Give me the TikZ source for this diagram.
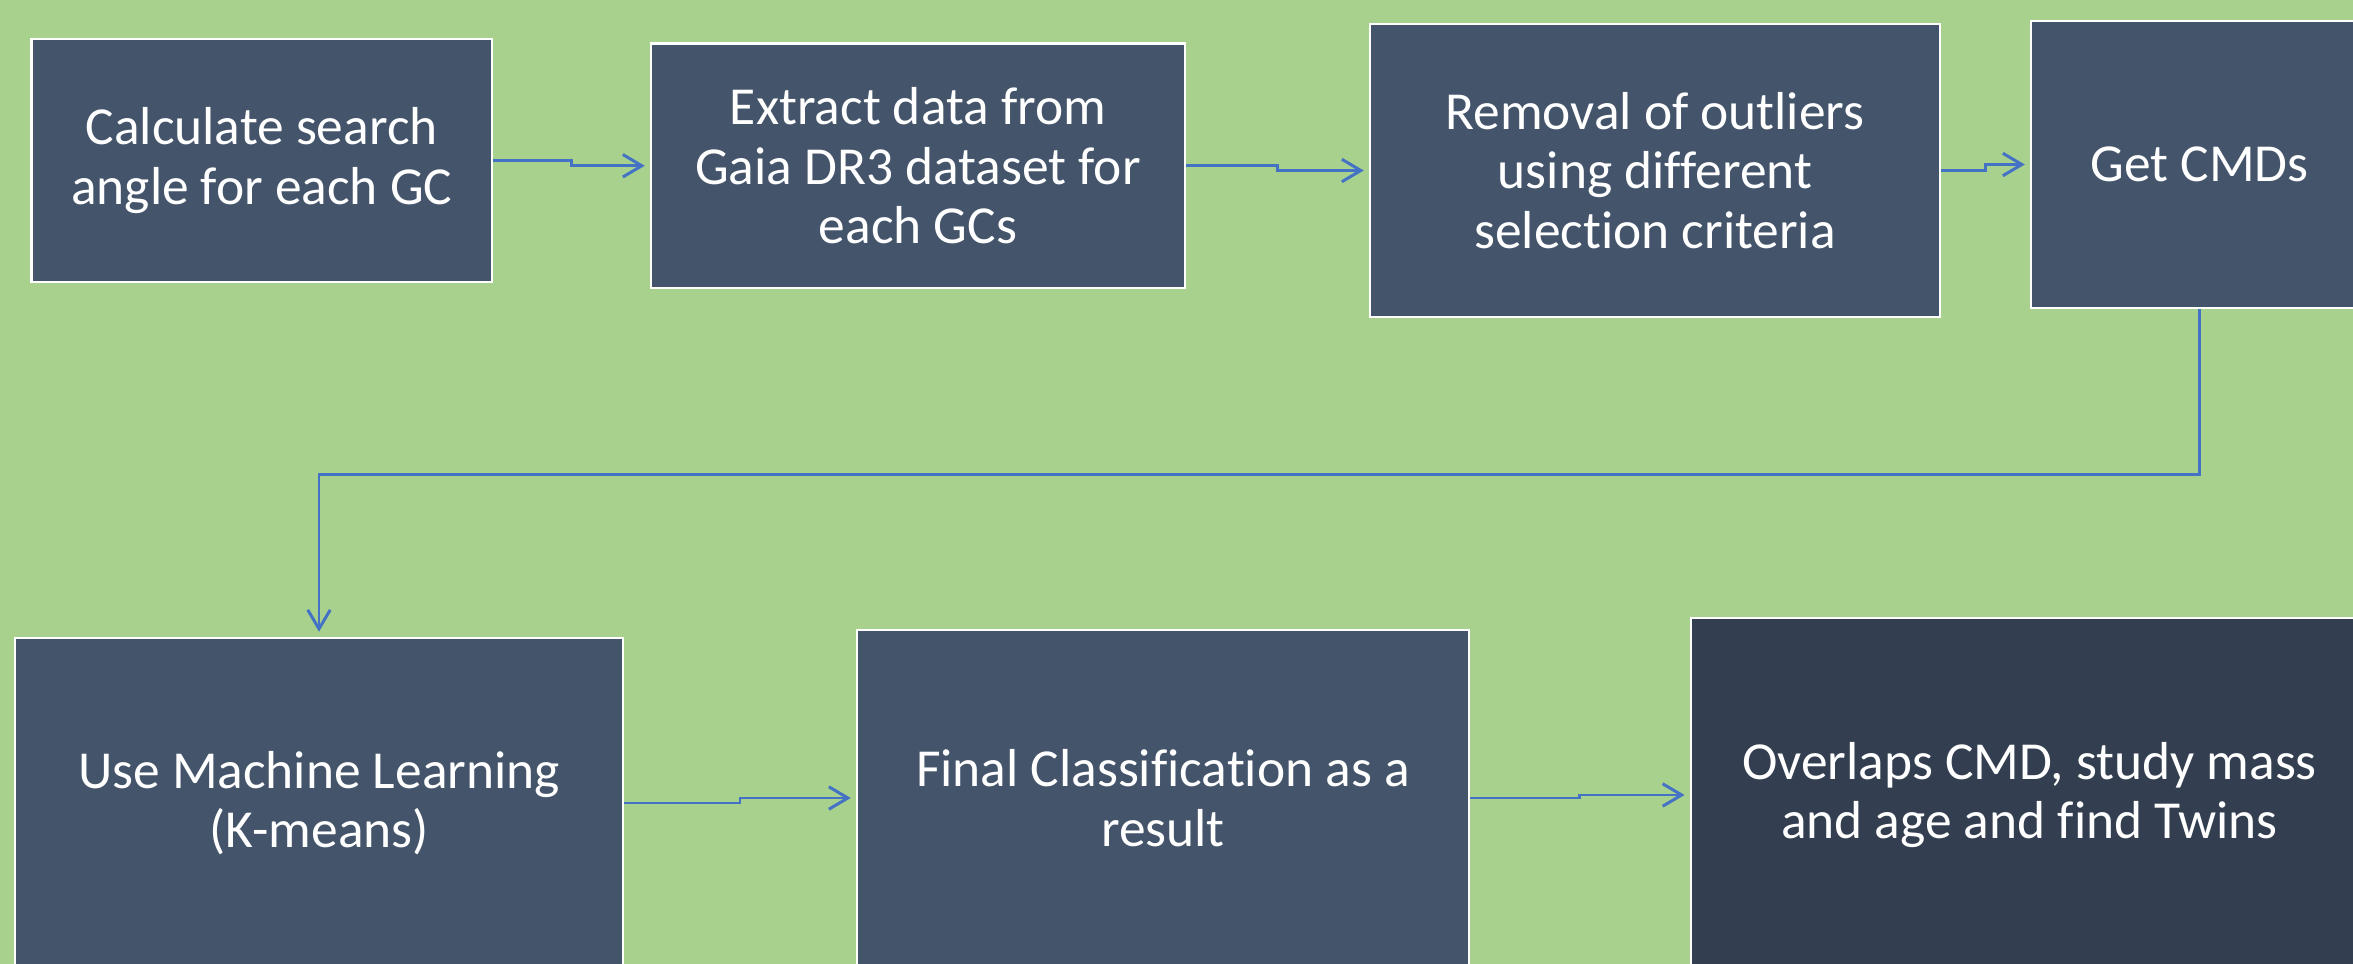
\documentclass[tikz,border=0pt]{standalone}
\usepackage{fontspec}
\setmainfont[Ligatures=NoCommon]{Carlito}
\usetikzlibrary{calc,arrows.meta}
\definecolor{bggreen}{HTML}{A9D18E}
\definecolor{boxblue}{HTML}{44546A}
\definecolor{boxdark}{HTML}{333F50}
\definecolor{linkblue}{HTML}{4472C4}
\tikzset{
  stepbox/.style={draw=white, line width=0.7pt, fill=boxblue, text=white,
    align=center, inner sep=0pt,
    font=\fontsize{15.2pt}{16.9pt}\selectfont},
  link/.style={draw=linkblue, line width=0.85pt,
    -{Straight Barb[length=5.4pt,width=6.4pt,line width=0.85pt]},
    shorten >=0.05cm},
}
\newcommand{\boxat}[6]{% name, cx, cy, w, h, text
  \node[stepbox, minimum width=#4*0.01cm, minimum height=#5*0.01cm] (#1) at (#2,#3) {#6};}
\begin{document}
\begin{tikzpicture}[x=0.01cm,y=-0.01cm]
\useasboundingbox (0,0) rectangle (2353,964);
\clip (0,0) rectangle (2353,964);
\fill[bggreen] (0,0) rectangle (2353,964);

% top row
\boxat{b1}{261.75}{160.5}{460.5}{243}{Calculate search\\angle for each GC}
\boxat{b2}{918}{165.75}{534}{244.5}{Extract data from\\Gaia DR3 dataset for\\each GCs}
\boxat{b3}{1655}{170.5}{570}{293}{Removal of outliers\\using different\\selection criteria}
\boxat{b4}{2199.5}{164.5}{337}{287}{Get CMDs}
% bottom row
\boxat{b5}{319}{803}{608}{330}{Use Machine Learning\\(K-means)}
\boxat{b6}{1163}{798}{612}{336}{Final Classification as a\\result}
\node[stepbox, fill=boxdark, minimum width=6.77cm, minimum height=3.54cm] (b7) at (2029.5,795) {Overlaps CMD, study mass\\and age and find Twins};

% elbow connectors
\draw[link] (b1.east) -| ($(b1.east)!0.5!(b2.west)$) |- (b2.west);
\draw[link] (b2.east) -| ($(b2.east)!0.5!(b3.west)$) |- (b3.west);
\draw[link] (b3.east) -| ($(b3.east)!0.5!(b4.west)$) |- (b4.west);
\coordinate (turn) at ($(b4.south)+(0,165)$);
\draw[link] (b4.south) -- (turn) -| (b5.north);
\draw[link] (b5.east) -| ($(b5.east)!0.5!(b6.west)$) |- (b6.west);
\draw[link] (b6.east) -| ($(b6.east)!0.5!(b7.west)$) |- (b7.west);
\end{tikzpicture}
\end{document}
